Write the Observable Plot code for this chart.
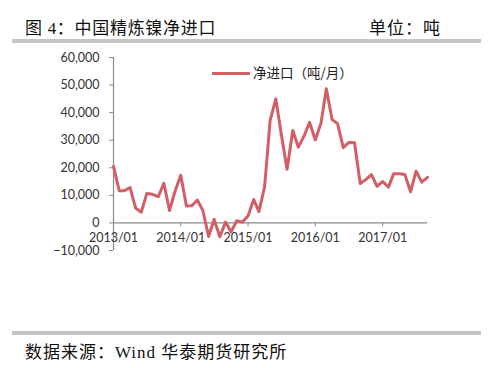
<!DOCTYPE html>
<html>
<head>
<meta charset="utf-8">
<script src="https://cdn.jsdelivr.net/npm/d3@7"></script>
<script src="https://cdn.jsdelivr.net/npm/@observablehq/plot@0.6"></script>
<style>
  html, body { margin: 0; padding: 0; background: #fff; }
  #wrap { position: relative; width: 500px; height: 368px; overflow: hidden; }
  .serif { font-family: "Liberation Serif", "Noto Sans CJK SC", serif; color: #111; position: absolute; white-space: nowrap; }
  .bar { position: absolute; left: 12px; width: 469px; height: 4px; background: #c4c4c4; }
  #chart { position: absolute; left: 0; top: 45px; }
  #legend { position: absolute; left: 212px; top: 62px; font-family: "Noto Sans CJK SC", sans-serif; font-size: 13.5px; color: #222; white-space: nowrap; }
  #legend .sw { display: inline-block; width: 38px; height: 3px; background: #d25f66; vertical-align: middle; margin-right: 3px; position: relative; top: -1px; }
</style>
</head>
<body>
<div id="wrap">
  <div class="serif" style="left:25px; top:14px; font-size:17px; letter-spacing:0.7px;">图 4：中国精炼镍净进口</div>
  <div class="serif" style="left:369px; top:14px; font-size:17px; letter-spacing:1px;">单位：吨</div>
  <div class="bar" style="top:39px;"></div>
  <div id="chart"></div>
  <div id="legend"><span class="sw"></span>净进口（吨/月）</div>
  <div class="bar" style="top:331px;"></div>
  <div class="serif" style="left:25px; top:338px; font-size:17px; letter-spacing:1px;">数据来源：Wind 华泰期货研究所</div>
</div>
<script>
// Monthly net imports (tonnes), 2013/01 .. 2017/09
const startMonth = "2013-01";
const netImports = [
  20500, 11700, 11700, 12800, 5400, 3900, 10700, 10400, 9500, 14400, 4500, 11500,
  17300, 6100, 6200, 8300, 4500, -4900, 1300, -5000, 300, -3300, 800, 300,
  2500, 8500, 4100, 13100, 37200, 45000, 32000, 19500, 33500, 27500, 31500, 36500,
  30100, 36200, 48700, 37500, 36000, 27300, 29200, 29100, 14300, 15700, 17500, 13300,
  15000, 13000, 17800, 17800, 17600, 11300, 18800, 14800, 16500
];
const yTicks = [-10000, 0, 10000, 20000, 30000, 40000, 50000, 60000];
const xTickLabels = ["2013/01", "2014/01", "2015/01", "2016/01", "2017/01"];

const parseLabel = s => { const [y, m] = s.split("/").map(Number); return new Date(Date.UTC(y, m - 1, 1)); };
const start = new Date(startMonth + "-01T00:00:00Z");
const data = netImports.map((v, i) => ({ date: d3.utcMonth.offset(start, i), value: v }));
const xTicks = xTickLabels.map(parseLabel);
const end = data[data.length - 1].date;

const axisColor = "#8a8a8a";
const chart = Plot.plot({
  width: 500,
  height: 255,
  marginLeft: 113,
  marginRight: 73,
  marginTop: 12,
  marginBottom: 50,
  x: { type: "utc", domain: [start, end], axis: null },
  y: { domain: [-10000, 60000], axis: null },
  style: { fontFamily: "Lato, 'Noto Sans', sans-serif", fontSize: "12.5px", color: "#333", background: "transparent" },
  marks: [
    Plot.axisY({ ticks: yTicks, tickFormat: d3.format(","), tickSize: 4, tickPadding: 10, label: null, stroke: axisColor, fill: "#333" }),
    Plot.ruleX([start], { stroke: axisColor, strokeWidth: 1.2 }),
    Plot.ruleY([0], { stroke: axisColor, strokeWidth: 1.2 }),
    Plot.ruleX(xTicks, { x: d => d, y1: 0, y2: -1400, stroke: axisColor }),
    Plot.text(xTicks, { x: d => d, y: 0, dy: 15, text: (d, i) => xTickLabels[i], fill: "#333" }),
    Plot.line(data, { x: "date", y: "value", stroke: "#d25f66", strokeWidth: 3, strokeLinejoin: "round" })
  ]
});
document.getElementById("chart").appendChild(chart);
</script>
</body>
</html>
